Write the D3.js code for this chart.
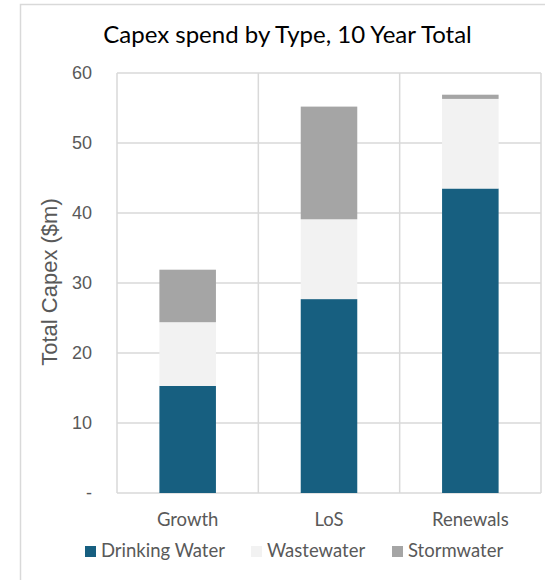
<!DOCTYPE html>
<html>
<head>
<meta charset="utf-8">
<script src="https://cdn.jsdelivr.net/npm/d3@7"></script>
<style>
  body { margin: 0; background: #fff; }
  svg { display: block; }
</style>
</head>
<body>
<div id="chart"></div>
<script>
// chart data
var categories = ['Growth', 'LoS', 'Renewals'];
var seriesNames = ['Drinking Water', 'Wastewater', 'Stormwater'];
var drinkingWater = [15.3, 27.7, 43.5];
var wastewater = [9.1, 11.4, 12.8];
var stormwater = [7.5, 16.1, 0.6];
var yTicks = [0, 10, 20, 30, 40, 50, 60];

var colors = ['#175f80', '#f2f2f2', '#a5a5a5'];

var width = 545, height = 580;
var margin = { top: 73, right: 4, bottom: 87, left: 117 };

var svg = d3.select('#chart').append('svg')
  .attr('width', width).attr('height', height);

// outer chart border
svg.append('rect')
  .attr('x', 20.5).attr('y', 4.5)
  .attr('width', 540).attr('height', 600)
  .attr('fill', 'none').attr('stroke', '#d9d9d9').attr('stroke-width', 1.5);

var x = d3.scaleBand().domain(categories)
  .range([margin.left, width - margin.right]).paddingInner(0).paddingOuter(0);
var y = d3.scaleLinear().domain([0, 60]).range([height - margin.bottom, margin.top]);

// build table for stack
var table = categories.map(function(c, i) {
  return { cat: c, 'Drinking Water': drinkingWater[i], 'Wastewater': wastewater[i], 'Stormwater': stormwater[i] };
});
var stacked = d3.stack().keys(seriesNames)(table);

// horizontal gridlines
svg.append('g').selectAll('line').data(yTicks).enter().append('line')
  .attr('x1', margin.left).attr('x2', width - margin.right)
  .attr('y1', function(d) { return y(d); }).attr('y2', function(d) { return y(d); })
  .attr('stroke', '#d9d9d9').attr('stroke-width', 1.5);

// vertical category separators
var seps = [margin.left].concat(categories.map(function(c) { return x(c) + x.bandwidth(); }));
svg.append('g').selectAll('line').data(seps).enter().append('line')
  .attr('x1', function(d) { return d; }).attr('x2', function(d) { return d; })
  .attr('y1', y(0)).attr('y2', y(60))
  .attr('stroke', '#d9d9d9').attr('stroke-width', 1.5);

// bars
var barW = x.bandwidth() * 0.4;
svg.append('g').selectAll('g').data(stacked).enter().append('g')
  .attr('fill', function(d, i) { return colors[i]; })
  .selectAll('rect').data(function(d) { return d; }).enter().append('rect')
  .attr('x', function(d) { return x(d.data.cat) + (x.bandwidth() - barW) / 2; })
  .attr('width', barW)
  .attr('y', function(d) { return y(d[1]); })
  .attr('height', function(d) { return y(d[0]) - y(d[1]); });

// y axis
var yAxis = d3.axisLeft(y).tickValues(yTicks).tickSize(0).tickPadding(25)
  .tickFormat(function(d) { return d === 0 ? '-' : d; });
var yg = svg.append('g').attr('transform', 'translate(' + margin.left + ',0)').call(yAxis);
yg.select('.domain').remove();
yg.selectAll('text').attr('font-family', 'Liberation Sans, Arial, sans-serif')
  .attr('font-size', 18).attr('fill', '#595959');

// x axis
var xAxis = d3.axisBottom(x).tickSize(0).tickPadding(0);
var xg = svg.append('g').attr('transform', 'translate(0,' + y(0) + ')').call(xAxis);
xg.select('.domain').remove();
xg.selectAll('text').attr('font-family', 'Lato, sans-serif')
  .attr('dy', null).attr('y', 33)
  .attr('font-size', 18.5).attr('fill', '#595959');

// y axis title
svg.append('text')
  .attr('transform', 'translate(57,' + (y(30) - 1) + ') rotate(-90)')
  .attr('text-anchor', 'middle')
  .attr('font-family', 'Liberation Sans, Arial, sans-serif')
  .attr('font-size', 22).attr('fill', '#595959')
  .text('Total Capex ($m)');

// chart title
svg.append('text')
  .attr('x', 287.5).attr('y', 43)
  .attr('text-anchor', 'middle')
  .attr('font-family', 'Lato, sans-serif')
  .attr('font-size', 24).attr('fill', '#000')
  .text('Capex spend by Type, 10 Year Total');

// legend
var legendX = [85, 251, 392];
var lg = svg.append('g').selectAll('g').data(seriesNames).enter().append('g')
  .attr('transform', function(d, i) { return 'translate(' + legendX[i] + ',557)'; });
lg.append('rect').attr('x', 0).attr('y', -11).attr('width', 11).attr('height', 11)
  .attr('fill', function(d, i) { return colors[i]; });
lg.append('text').attr('x', 16).attr('y', 0)
  .attr('font-family', 'Lato, sans-serif')
  .attr('font-size', 18.5).attr('fill', '#595959')
  .text(function(d) { return d; });
</script>
</body>
</html>
